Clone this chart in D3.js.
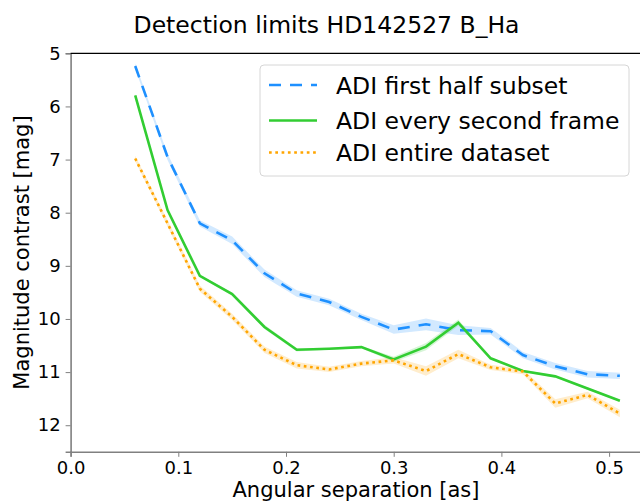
<!DOCTYPE html>
<html>
<head>
<meta charset="utf-8">
<script src="https://cdn.jsdelivr.net/npm/d3@7"></script>
<style>
  body { margin: 0; background: #fff; }
  svg text { font-family: "DejaVu Sans", sans-serif; fill: #000; }
</style>
</head>
<body>
<svg id="chart" width="640" height="502"></svg>
<script>
"use strict";
// angular separation [as]
const separation = [0.06, 0.09, 0.12, 0.15, 0.18, 0.21, 0.24, 0.27, 0.30, 0.33, 0.36, 0.39, 0.42, 0.45, 0.48, 0.51];

// magnitude contrast [mag]
const firstHalf = [5.24, 6.95, 8.20, 8.52, 9.14, 9.52, 9.68, 9.96, 10.20, 10.10, 10.21, 10.23, 10.68, 10.89, 11.04, 11.07];
const everySecond = [5.79, 7.95, 9.19, 9.53, 10.15, 10.58, 10.56, 10.53, 10.76, 10.52, 10.07, 10.74, 10.98, 11.08, 11.31, 11.54];
const entireSet = [6.98, 8.20, 9.43, 9.96, 10.58, 10.87, 10.95, 10.84, 10.78, 10.98, 10.66, 10.91, 10.99, 11.59, 11.43, 11.78];

// spread of the shaded band around each curve
const firstHalfErr = [0.05, 0.06, 0.06, 0.07, 0.07, 0.06, 0.06, 0.06, 0.08, 0.11, 0.09, 0.06, 0.06, 0.06, 0.06, 0.06];
const everySecondErr = [0.02, 0.02, 0.02, 0.03, 0.04, 0.03, 0.02, 0.02, 0.05, 0.07, 0.06, 0.02, 0.02, 0.02, 0.02, 0.02];
const entireSetErr = [0.05, 0.06, 0.06, 0.06, 0.06, 0.06, 0.05, 0.05, 0.06, 0.09, 0.08, 0.05, 0.05, 0.08, 0.06, 0.07];

const seriesNames = ["ADI first half subset", "ADI every second frame", "ADI entire dataset"];
const xTicks = [0.0, 0.1, 0.2, 0.3, 0.4, 0.5];
const yTicks = [5, 6, 7, 8, 9, 10, 11, 12];

const svg = d3.select("#chart");
const plotLeft = 70.6, plotTop = 53.3, plotBottom = 451.8;

const x = d3.scaleLinear().domain([0, 0.53]).range([plotLeft, plotLeft + 1077 * 0.53]);
const y = d3.scaleLinear().domain([5, 12.5]).range([plotTop, plotBottom]);

const series = [
  { name: seriesNames[0], values: firstHalf, err: firstHalfErr, color: "#1e90ff", dash: "12,9" },
  { name: seriesNames[1], values: everySecond, err: everySecondErr, color: "#32cd32", dash: null },
  { name: seriesNames[2], values: entireSet, err: entireSetErr, color: "#ffa500", dash: "2.7,3.6" }
];

// title
svg.append("text")
  .attr("x", 326.5).attr("y", 32.5)
  .attr("text-anchor", "middle")
  .style("font-size", "23.5px")
  .text("Detection limits HD142527 B_Ha");

const plot = svg.append("g");

// shaded bands
series.forEach(s => {
  const area = d3.area()
    .x((d, i) => x(separation[i]))
    .y0((d, i) => y(d - s.err[i]))
    .y1((d, i) => y(d + s.err[i]));
  plot.append("path")
    .datum(s.values)
    .attr("d", area)
    .style("fill", s.color)
    .style("fill-opacity", 0.2);
});

// curves
series.forEach(s => {
  const line = d3.line()
    .x((d, i) => x(separation[i]))
    .y(d => y(d));
  plot.append("path")
    .datum(s.values)
    .attr("d", line)
    .style("fill", "none")
    .style("stroke", s.color)
    .style("stroke-width", 2.6)
    .style("stroke-dasharray", s.dash);
});

// axes
const xAxis = svg.append("g")
  .attr("transform", `translate(0,${plotBottom})`)
  .call(d3.axisBottom(x).tickValues(xTicks).tickFormat(d3.format(".1f")).tickSize(5).tickPadding(4));
const yAxis = svg.append("g")
  .attr("transform", `translate(${plotLeft},0)`)
  .call(d3.axisLeft(y).tickValues(yTicks).tickFormat(d3.format("d")).tickSize(5).tickPadding(5));

[xAxis, yAxis].forEach(a => {
  a.select(".domain").style("stroke", "#808080").style("stroke-width", 1.6);
  a.selectAll(".tick line").style("stroke", "#808080").style("stroke-width", 1);
  a.selectAll(".tick text").style("font-size", "18px").style("font-family", "DejaVu Sans");
});

// top spine
svg.append("line")
  .attr("x1", plotLeft).attr("x2", 640)
  .attr("y1", plotTop).attr("y2", plotTop)
  .style("stroke", "#000").style("stroke-width", 1.2);

// axis labels
svg.append("text")
  .attr("x", 356).attr("y", 497)
  .attr("text-anchor", "middle")
  .style("font-size", "21px")
  .text("Angular separation [as]");
svg.append("text")
  .attr("transform", `translate(29,${(plotTop + plotBottom) / 2}) rotate(-90)`)
  .attr("text-anchor", "middle")
  .style("font-size", "21px")
  .text("Magnitude contrast [mag]");

// legend
const legend = svg.append("g");
legend.append("rect")
  .attr("x", 260).attr("y", 65).attr("width", 369).attr("height", 111).attr("rx", 4)
  .style("fill", "#fff").style("fill-opacity", 0.8)
  .style("stroke", "#d6d6d6").style("stroke-width", 1);
const rowY = [85, 120.5, 152.5];
series.forEach((s, i) => {
  legend.append("line")
    .attr("x1", 269).attr("x2", 317)
    .attr("y1", rowY[i]).attr("y2", rowY[i])
    .style("stroke", s.color).style("stroke-width", 2.6)
    .style("stroke-dasharray", s.dash);
  legend.append("text")
    .attr("x", 336).attr("y", rowY[i] + 8.5)
    .style("font-size", "23.5px")
    .text(s.name);
});
</script>
</body>
</html>
